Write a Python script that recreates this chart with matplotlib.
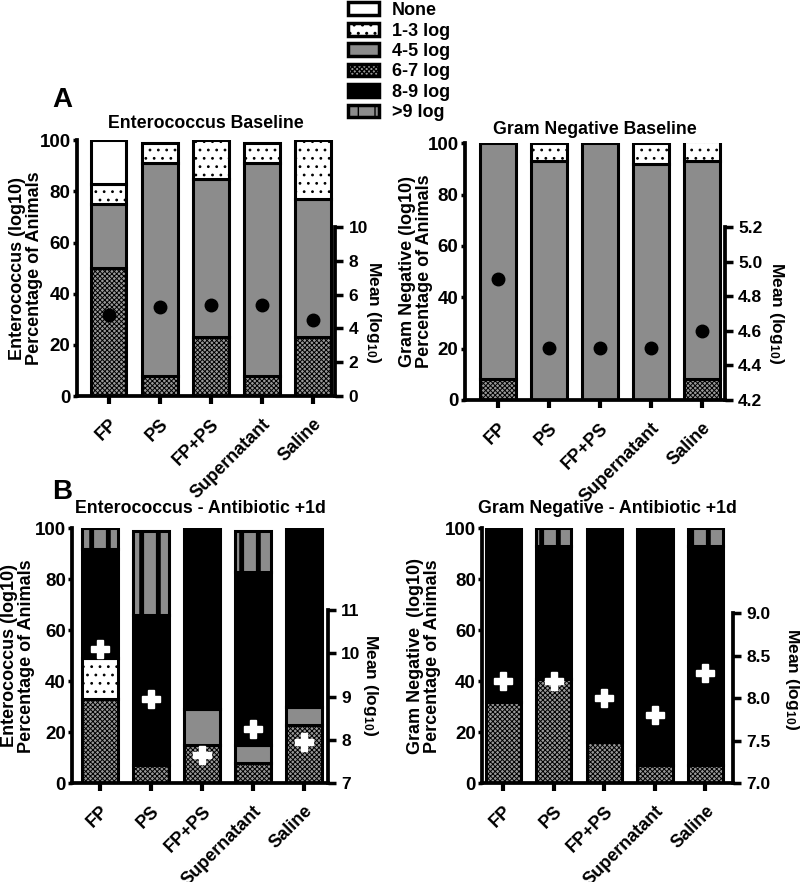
import numpy as np
import matplotlib
matplotlib.use('Agg')
import matplotlib.pyplot as plt
from matplotlib.patches import Patch

plt.rcParams['font.family'] = ['Liberation Sans', 'DejaVu Sans']
plt.rcParams['font.weight'] = 'bold'
plt.rcParams['axes.labelweight'] = 'bold'
plt.rcParams['axes.titleweight'] = 'bold'
plt.rcParams['mathtext.fontset'] = 'custom'
plt.rcParams['mathtext.rm'] = 'Liberation Sans:bold'
plt.rcParams['mathtext.default'] = 'rm'
plt.rcParams['hatch.color'] = 'black'

groups = ['FP', 'PS', 'FP+PS', 'Supernatant', 'Saline']

# percentage of animals per load class (bottom to top stacking)
# A - Enterococcus baseline
ent_base_67 = [50, 8, 23, 8, 23]
ent_base_45 = [25, 83, 62, 83, 54]
ent_base_13 = [8, 8, 15, 8, 23]
ent_base_none = [17, 0, 0, 0, 0]
ent_base_mean = [4.8, 5.3, 5.4, 5.4, 4.5]

# A - Gram negative baseline
gn_base_67 = [8, 0, 0, 0, 8]
gn_base_45 = [92, 93, 100, 92, 85]
gn_base_13 = [0, 7, 0, 8, 8]
gn_base_mean = [4.9, 4.5, 4.5, 4.5, 4.6]

# B - Enterococcus antibiotic +1d
ent_abx_67 = [33, 7, 15, 8, 23]
ent_abx_45 = [0, 0, 14, 7, 7]
ent_abx_13 = [16, 0, 0, 0, 0]
ent_abx_89 = [43, 59, 71, 68, 70]
ent_abx_9 = [8, 33, 0, 16, 0]
ent_abx_mean = [10.1, 8.95, 7.65, 8.25, 7.95]

# B - Gram negative antibiotic +1d
gn_abx_67 = [32, 41, 16, 7, 7]
gn_abx_89 = [68, 52, 84, 93, 86]
gn_abx_9 = [0, 7, 0, 0, 7]
gn_abx_mean = [8.2, 8.2, 8.0, 7.8, 8.3]

legend_order = ['None', '1-3 log', '4-5 log', '6-7 log', '8-9 log', '>9 log']
styles = {
    'None': ('white', None, 1.0),
    '1-3 log': ('white', '..', 0.8),
    '4-5 log': ('#8c8c8c', None, 1.0),
    '6-7 log': ('#999999', 'xxxxxxx', 0.7),
    '8-9 log': ('black', None, 1.0),
    '>9 log': ('#8c8c8c', '|', 3.5),
}

fig = plt.figure(figsize=(8, 8.82), dpi=100)


def panel(rect, stacks, means, title, ylabel, rlim, rticks, rbounds, xlim,
          ylab_x, rlab_xy, title_pad, filled_dot):
    ax = fig.add_axes(rect)
    x = np.arange(len(groups))
    bottom = np.zeros(len(groups))
    for lev, vals in stacks:
        vals = np.array(vals, float)
        m = vals > 0
        face, hatch, hlw = styles[lev]
        if m.any():
            with plt.rc_context({'hatch.linewidth': hlw}):
                bars = ax.bar(x[m], vals[m], 0.7, bottom=bottom[m], color=face,
                              hatch=hatch, edgecolor='black', linewidth=2.2)
                for b in bars:
                    if hasattr(b, 'set_hatch_linewidth'):
                        b.set_hatch_linewidth(hlw)
        bottom += vals
    ax.set_xlim(*xlim)
    ax.set_ylim(0, 100)
    ax.set_yticks([0, 20, 40, 60, 80, 100])
    ax.set_xticks(x, groups, rotation=45, ha='right', rotation_mode='anchor')
    ax.tick_params(axis='y', length=3, width=2.5, labelsize=13.5, pad=1.5)
    ax.tick_params(axis='x', length=6, width=3, labelsize=13, pad=8)
    for s in ['top', 'right']:
        ax.spines[s].set_visible(False)
    for s in ['left', 'bottom']:
        ax.spines[s].set_linewidth(2.7)
    ax.set_title(title, fontsize=12.8, pad=title_pad)
    ax.set_ylabel(ylabel, fontsize=13, linespacing=1.0)
    ax.yaxis.set_label_coords(ylab_x, 0.5)

    ax2 = ax.twinx()
    if filled_dot:
        ax2.plot(x, means, ls='none', marker='o', ms=9, color='black', zorder=5)
    else:
        ax2.plot(x, means, ls='none', marker='P', ms=13, color='white',
                 mec='white', zorder=5)
    ax2.set_ylim(*rlim)
    ax2.set_yticks(rticks)
    ax2.tick_params(axis='y', length=6, width=2.5, labelsize=12.5)
    for s in ['top', 'left', 'bottom']:
        ax2.spines[s].set_visible(False)
    ax2.spines['right'].set_linewidth(2.7)
    ax2.spines['right'].set_bounds(*rbounds)
    ax2.set_ylabel('Mean (log$_{10}$)', fontsize=12.5, rotation=270, va='center')
    ax2.yaxis.set_label_coords(*rlab_xy)
    return ax


panel([0.096, 0.551, 0.323, 0.290],
      [('6-7 log', ent_base_67), ('4-5 log', ent_base_45),
       ('1-3 log', ent_base_13), ('None', ent_base_none)],
      ent_base_mean, 'Enterococcus Baseline',
      'Enterococcus (log10)\nPercentage of Animals',
      (0, 15.15), [0, 2, 4, 6, 8, 10], (0, 10), (-0.62, 4.43),
      -0.13, (1.15, 0.33), 9, True)

panel([0.581, 0.5465, 0.325, 0.291],
      [('6-7 log', gn_base_67), ('4-5 log', gn_base_45),
       ('1-3 log', gn_base_13)],
      gn_base_mean, 'Gram Negative Baseline',
      'Gram Negative (log10)\nPercentage of Animals',
      (4.2, 5.683), [4.2, 4.4, 4.6, 4.8, 5.0, 5.2], (4.2, 5.2), (-0.65, 4.45),
      -0.123, (1.2, 0.34), 7, True)

panel([0.09, 0.112, 0.32, 0.289],
      [('6-7 log', ent_abx_67), ('4-5 log', ent_abx_45),
       ('1-3 log', ent_abx_13), ('8-9 log', ent_abx_89), ('>9 log', ent_abx_9)],
      ent_abx_mean, 'Enterococcus - Antibiotic +1d',
      'Enterococcus (log10)\nPercentage of Animals',
      (7, 12.88), [7, 8, 9, 10, 11], (7, 11), (-0.55, 4.47),
      -0.145, (1.165, 0.385), 11, False)

panel([0.6025, 0.112, 0.314, 0.289],
      [('6-7 log', gn_abx_67), ('8-9 log', gn_abx_89), ('>9 log', gn_abx_9)],
      gn_abx_mean, 'Gram Negative - Antibiotic +1d',
      'Gram Negative  (log10)\nPercentage of Animals',
      (7, 10.0), [7.0, 7.5, 8.0, 8.5, 9.0], (7, 9), (-0.42, 4.55),
      -0.163, (1.235, 0.41), 11, False)

handles = []
for lev in legend_order:
    face, hatch, hlw = styles[lev]
    with plt.rc_context({'hatch.linewidth': hlw}):
        p = Patch(facecolor=face, hatch=hatch, edgecolor='black', linewidth=2.5)
        if hasattr(p, 'set_hatch_linewidth'):
            p.set_hatch_linewidth(hlw)
    handles.append(p)
fig.legend(handles, legend_order, loc='upper left', bbox_to_anchor=(0.415, 1.016),
           frameon=False, fontsize=13, handlelength=1.7, handleheight=0.7,
           labelspacing=0.19, handletextpad=0.7)

fig.text(0.078, 1 - 100 / 882, 'A', fontsize=20, ha='center', va='center')
fig.text(0.078, 1 - 492 / 882, 'B', fontsize=20, ha='center', va='center')

fig.savefig('out.png', dpi=100)
